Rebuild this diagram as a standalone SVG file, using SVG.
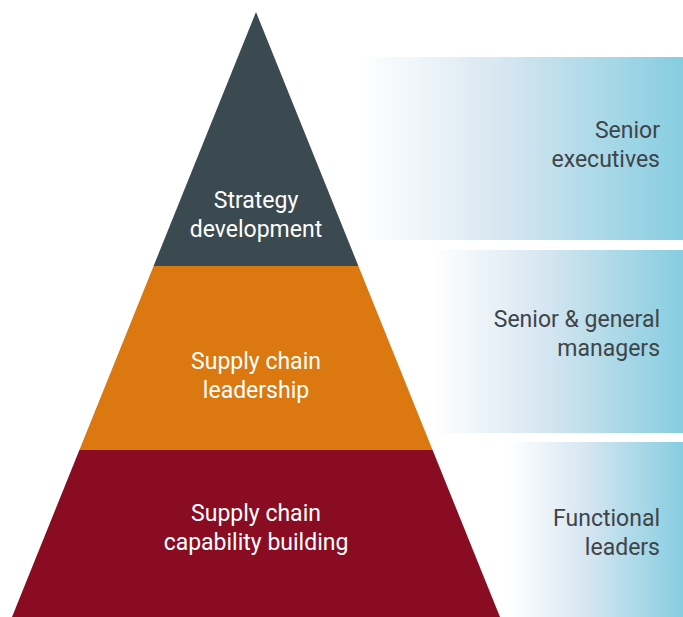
<svg xmlns="http://www.w3.org/2000/svg" width="683" height="617" viewBox="0 0 683 617">
<defs>
<linearGradient id="g" x1="0" y1="0" x2="1" y2="0">
<stop offset="0" stop-color="#ffffff"/>
<stop offset="0.45" stop-color="#d6e6f1"/>
<stop offset="1" stop-color="#86cde0"/>
</linearGradient>
<style>
.pt{font-family:Roboto,"Liberation Sans",sans-serif;font-size:23px;fill:#ffffff;text-anchor:middle}
.rt{font-family:Roboto,"Liberation Sans",sans-serif;font-size:23px;fill:#404447;text-anchor:end}
</style>
</defs>
<rect width="683" height="617" fill="#ffffff"/>
<g id="panel-senior-executives">
<rect x="360" y="57" width="323" height="183" fill="url(#g)"/>
<text class="rt" x="660" y="138">Senior</text>
<text class="rt" x="660" y="167">executives</text>
</g>
<g id="panel-senior-managers">
<rect x="432" y="250" width="251" height="183" fill="url(#g)"/>
<text class="rt" x="660" y="327">Senior &amp; general</text>
<text class="rt" x="660" y="356">managers</text>
</g>
<g id="panel-functional-leaders">
<rect x="508" y="442" width="175" height="175" fill="url(#g)"/>
<text class="rt" x="660" y="526">Functional</text>
<text class="rt" x="660" y="555">leaders</text>
</g>
<g id="layer-strategy">
<polygon points="256,12 358.4,266 153.6,266" fill="#3b4951"/>
<text class="pt" x="256" y="208">Strategy</text>
<text class="pt" x="256" y="237">development</text>
</g>
<g id="layer-leadership">
<polygon points="153.6,266 358.4,266 432.6,450 79.4,450" fill="#dc7810"/>
<text class="pt" x="256" y="369">Supply chain</text>
<text class="pt" x="256" y="398">leadership</text>
</g>
<g id="layer-capability">
<polygon points="79.4,450 432.6,450 500,617 12,617" fill="#8a0c22"/>
<text class="pt" x="256" y="521">Supply chain</text>
<text class="pt" x="256" y="550">capability building</text>
</g>
<g id="connectors"/>
</svg>
